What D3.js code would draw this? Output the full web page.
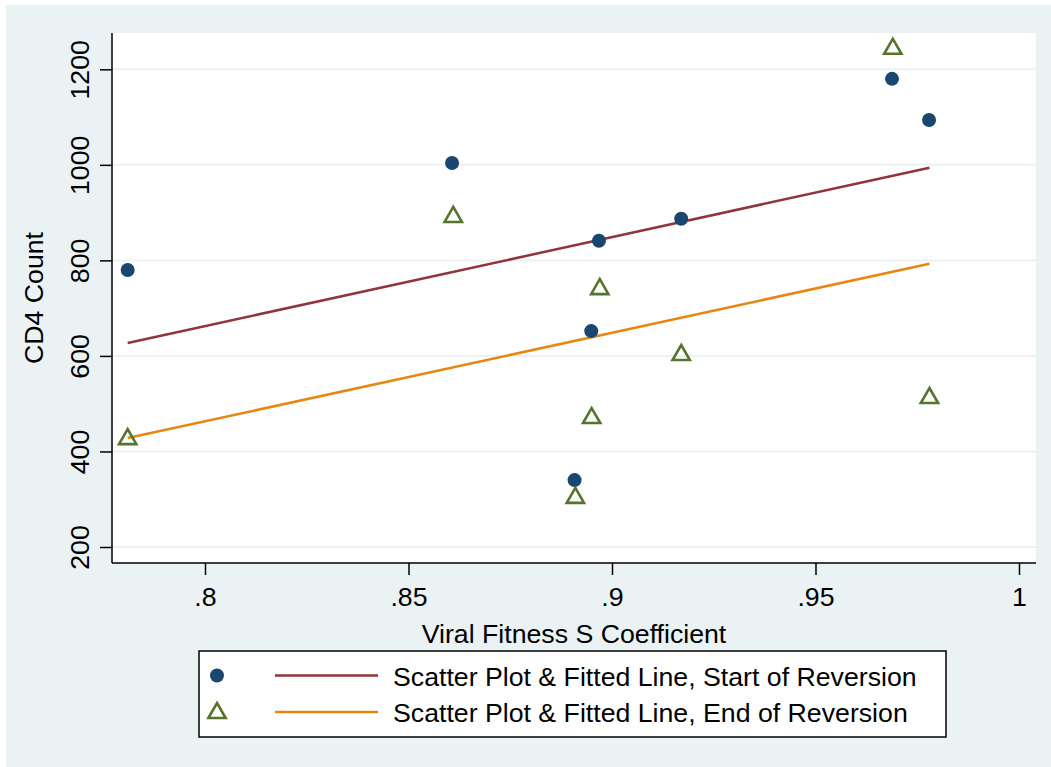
<!DOCTYPE html>
<html>
<head>
<meta charset="utf-8">
<script src="https://cdn.jsdelivr.net/npm/d3@7"></script>
<style>
  html, body { margin: 0; padding: 0; background: #ffffff; }
  svg { display: block; }
  text { font-family: "Liberation Sans", Arial, sans-serif; fill: #000; }
</style>
</head>
<body>
<svg id="chart" width="1051" height="767"></svg>
<script>
// ---- Data ----
const startX = [0.781, 0.8607, 0.8968, 0.8949, 0.8908, 0.917, 0.9688, 0.9779];
const startY = [780, 1004, 841, 652, 340, 887, 1180, 1094];
const endX   = [0.781, 0.861, 0.897, 0.895, 0.891, 0.917, 0.969, 0.978];
const endY   = [428, 893, 742, 472, 305, 604, 1245, 514];
const fitStartX = [0.781, 0.978];
const fitStartY = [627, 994];
const fitEndX   = [0.781, 0.978];
const fitEndY   = [428, 793];
const xTicks = [0.8, 0.85, 0.9, 0.95, 1];
const xTickLabels = [".8", ".85", ".9", ".95", "1"];
const yTicks = [200, 400, 600, 800, 1000, 1200];
const yTickLabels = ["200", "400", "600", "800", "1000", "1200"];
const legendLabels = [
  "Scatter Plot & Fitted Line, Start of Reversion",
  "Scatter Plot & Fitted Line, End of Reversion"
];
const xTitle = "Viral Fitness S Coefficient";
const yTitle = "CD4 Count";

// ---- Styles ----
const bg = "#eaf2f3";
const navy = "#1a476f";
const maroon = "#90353b";
const green = "#55752f";
const orange = "#e8860f";
const fontSize = 26.7;

const svg = d3.select("#chart");
const plot = { left: 112, top: 33, right: 1036, bottom: 563 };

svg.append("rect").attr("x", 6).attr("y", 5).attr("width", 1045).attr("height", 762).attr("fill", bg);
svg.append("rect").attr("x", plot.left).attr("y", plot.top)
  .attr("width", plot.right - plot.left).attr("height", plot.bottom - plot.top).attr("fill", "#fff");

const x = d3.scaleLinear().domain([0.77715, 1.00418]).range([plot.left, plot.right]);
const y = d3.scaleLinear().domain([166.5, 1276]).range([plot.bottom, plot.top]);

// gridlines
svg.append("g").selectAll("line").data(yTicks).join("line")
  .attr("x1", plot.left).attr("x2", plot.right)
  .attr("y1", d => y(d)).attr("y2", d => y(d))
  .attr("stroke", bg).attr("stroke-width", 2);

// Axes
const xAxis = d3.axisBottom(x).tickValues(xTicks)
  .tickFormat((d, i) => xTickLabels[i]).tickSize(12).tickSizeOuter(0).tickPadding(6);
const gx = svg.append("g").attr("transform", `translate(0,${plot.bottom})`).call(xAxis);
gx.select(".domain").attr("stroke", "#000").attr("stroke-width", 1.5)
  .attr("d", `M${plot.left},0H${plot.right}`);
gx.selectAll(".tick line").attr("stroke", "#000").attr("stroke-width", 1.5);
gx.selectAll(".tick text").attr("font-size", fontSize).attr("dy", null).attr("y", 43)
  .style("font-family", '"Liberation Sans", Arial, sans-serif').attr("fill", "#000");

const yAxis = d3.axisLeft(y).tickValues(yTicks)
  .tickFormat((d, i) => yTickLabels[i]).tickSize(12).tickSizeOuter(0);
const gy = svg.append("g").attr("transform", `translate(${plot.left},0)`).call(yAxis);
gy.select(".domain").attr("stroke", "#000").attr("stroke-width", 1.5)
  .attr("d", `M0,${plot.top}V${plot.bottom}`);
gy.selectAll(".tick line").attr("stroke", "#000").attr("stroke-width", 1.5);
gy.selectAll(".tick text")
  .attr("font-size", fontSize).attr("x", null).attr("dy", null)
  .attr("text-anchor", "middle")
  .attr("transform", "translate(-23,0) rotate(-90)")
  .style("font-family", '"Liberation Sans", Arial, sans-serif').attr("fill", "#000");

// Axis titles
svg.append("text").attr("x", (plot.left + plot.right) / 2).attr("y", 643)
  .attr("text-anchor", "middle").attr("font-size", fontSize).text(xTitle);
svg.append("text").attr("transform", `translate(43,${(plot.top + plot.bottom) / 2}) rotate(-90)`)
  .attr("text-anchor", "middle").attr("font-size", fontSize).text(yTitle);

// Fitted lines
const line = d3.line().x(d => x(d[0])).y(d => y(d[1]));
svg.append("path").datum(d3.zip(fitStartX, fitStartY)).attr("d", line)
  .attr("fill", "none").attr("stroke", maroon).attr("stroke-width", 2.5);
svg.append("path").datum(d3.zip(fitEndX, fitEndY)).attr("d", line)
  .attr("fill", "none").attr("stroke", orange).attr("stroke-width", 2.5);

// Markers
const tri = d3.symbol().type(d3.symbolTriangle).size(130);
svg.append("g").selectAll("circle").data(d3.zip(startX, startY)).join("circle")
  .attr("cx", d => x(d[0])).attr("cy", d => y(d[1])).attr("r", 7).attr("fill", navy);
svg.append("g").selectAll("path").data(d3.zip(endX, endY)).join("path")
  .attr("d", tri).attr("transform", d => `translate(${x(d[0])},${y(d[1]) + 1})`)
  .attr("fill", "none").attr("stroke", green).attr("stroke-width", 2.6);

// Legend
const lg = svg.append("g");
lg.append("rect").attr("x", 199).attr("y", 651).attr("width", 747).attr("height", 86)
  .attr("fill", "#fff").attr("stroke", "#000").attr("stroke-width", 1.5);
const rows = [675.5, 712];
lg.append("circle").attr("cx", 217).attr("cy", rows[0]).attr("r", 7).attr("fill", navy);
lg.append("path").attr("d", tri).attr("transform", `translate(217,${rows[1] + 1})`)
  .attr("fill", "none").attr("stroke", green).attr("stroke-width", 2.6);
lg.append("line").attr("x1", 275).attr("x2", 378).attr("y1", rows[0]).attr("y2", rows[0])
  .attr("stroke", maroon).attr("stroke-width", 2.5);
lg.append("line").attr("x1", 275).attr("x2", 378).attr("y1", rows[1]).attr("y2", rows[1])
  .attr("stroke", orange).attr("stroke-width", 2.5);
lg.selectAll("text.lab").data(legendLabels).join("text").attr("class", "lab")
  .attr("x", 393).attr("y", (d, i) => rows[i] + 10).attr("font-size", fontSize).text(d => d);
</script>
</body>
</html>
